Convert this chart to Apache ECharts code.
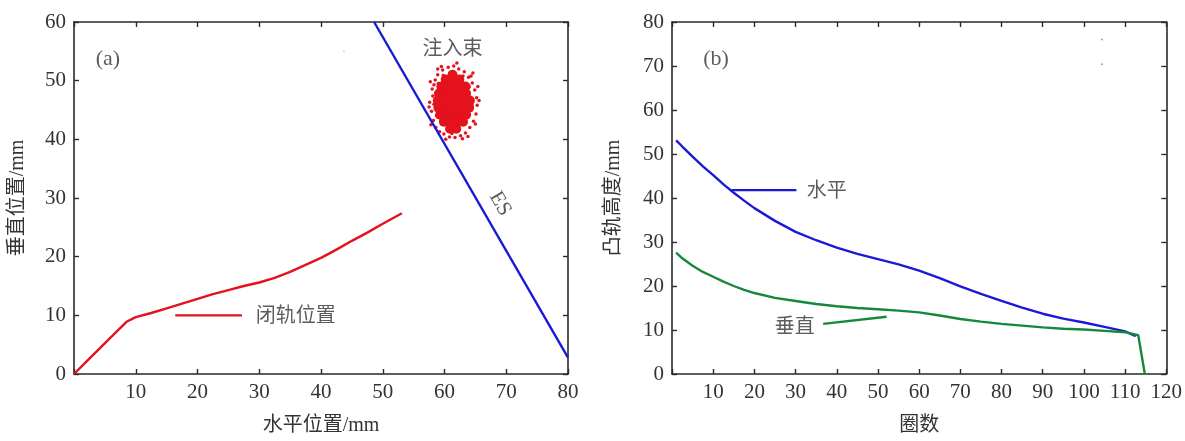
<!DOCTYPE html>
<html>
<head>
<meta charset="utf-8">
<script src="https://cdn.jsdelivr.net/npm/echarts@6/dist/echarts.min.js"></script>
<style>
html,body{margin:0;padding:0;background:#fff;}
#c{width:1185px;height:441px;}
</style>
</head>
<body>
<div id="c"></div>
<script>
// ---- panel (a) data ----
const closedOrbit = [[0,0],[2,2.1],[4,4.2],[6,6.3],[8.5,8.9],[10,9.7],[12.5,10.4],[15,11.2],[17.5,12.0],[20,12.8],[22.5,13.6],[25,14.3],[27.5,15.0],[30,15.6],[32.5,16.4],[35,17.4],[37.5,18.6],[40,19.8],[42.5,21.2],[45,22.7],[47.5,24.1],[50,25.6],[53.1,27.4]];
const esLine = [[48.6,60],[80,2.8]];
const beamCore = [[60.9,41.8],[61.9,41.8],[59.9,43.0],[61.0,43.0],[62.1,43.0],[63.0,43.0],[59.3,44.2],[60.4,44.2],[61.5,44.2],[62.6,44.2],[63.5,44.2],[59.0,45.4],[60.1,45.4],[61.2,45.4],[62.3,45.4],[63.4,45.4],[64.0,45.4],[58.9,46.6],[60.0,46.6],[61.1,46.6],[62.2,46.6],[63.3,46.6],[64.1,46.6],[59.1,47.8],[60.2,47.8],[61.3,47.8],[62.4,47.8],[63.5,47.8],[59.5,49.0],[60.6,49.0],[61.7,49.0],[62.8,49.0],[63.4,49.0],[60.2,50.2],[61.3,50.2],[62.4,50.2],[61.3,51.0]];
const beamHalo = [[57.6,46.3],[57.9,44.8],[58.0,48.6],[58.2,43.2],[58.1,47.4],[58.5,50.1],[58.6,42.0],[58.9,51.0],[59.2,41.3],[59.7,51.8],[59.9,40.9],[60.6,52.3],[60.8,40.4],[61.5,52.5],[61.7,40.3],[62.3,52.0],[62.6,40.6],[63.2,51.5],[63.4,41.1],[63.9,50.6],[64.1,42.0],[64.5,49.6],[64.7,43.1],[64.9,48.4],[65.1,44.3],[65.3,45.8],[65.2,47.1],[57.5,45.5],[58.3,49.3],[64.3,50.8],[59.5,52.4],[62.0,53.0],[65.6,46.6],[57.8,42.5],[63.8,40.5],[60.2,40.0],[58.7,44.0],[64.4,46.0],[59.0,49.5],[64.0,48.9],[63.0,50.8],[59.8,50.9],[58.3,46.0],[65.0,42.6],[58.9,52.0],[61.2,41.0],[62.9,40.1],[64.6,51.3],[57.7,49.8],[65.4,49.0]];
const legendLineA = [[16.4,10.0],[27.2,10.0]];
const textsA = [
  {name:'注入束', value:[61.3,55.3]},
  {name:'闭轨位置', value:[35.9,9.8]}
];
const panelA = [{name:'(a)', value:[5.5,53.6]}];
const esText = [{name:'ES', value:[69.0,29.0]}];
const specksA = [[43.7,55.0]];

// ---- panel (b) data ----
const horizontal = [[1,53.1],[2.5,51.7],[5,49.4],[7.5,47.2],[10,45.2],[12.5,43.1],[15,41.2],[17.5,39.4],[20,37.7],[25,34.8],[30,32.3],[35,30.4],[40,28.7],[45,27.3],[50,26.1],[55,24.9],[60,23.5],[65,21.8],[70,19.9],[75,18.2],[80,16.6],[85,15.1],[90,13.7],[95,12.6],[100,11.7],[105,10.7],[110,9.7],[112.6,8.6]];
const vertical = [[1,27.6],[2.5,26.3],[5,24.6],[7.5,23.2],[10,22.1],[12.5,21.0],[15,20.0],[17.5,19.1],[20,18.4],[25,17.3],[30,16.6],[35,15.9],[40,15.4],[45,15.0],[50,14.7],[55,14.4],[60,14.0],[65,13.3],[70,12.5],[75,11.9],[80,11.4],[85,11.0],[90,10.6],[95,10.3],[100,10.1],[105,9.8],[110,9.5],[113.2,8.8],[114.8,0]];
const legendLineH = [[14.5,41.8],[30.2,41.8]];
const legendLineV = [[36.7,11.4],[52.1,13.0]];
const textsB = [
  {name:'水平', value:[37.6,41.4]},
  {name:'垂直', value:[29.8,10.6]}
];
const panelB = [{name:'(b)', value:[10.7,71.5]}];
const specksB = [[104.4,76.0],[104.4,70.4]];

// ticks
const xTicksA = {min:0, max:80, interval:10};
const yTicksA = {min:0, max:60, interval:10};
const xTicksB = {min:0, max:120, interval:10};
const yTicksB = {min:0, max:80, interval:10};

const FONT = "'Liberation Serif','Noto Sans CJK SC',serif";
const TXT = '#333';
const AX = '#2a2a2a';
const RED = '#e4121c', BLUE = '#1a1ad6', GREEN = '#16883c';

function axisBase(pos, grid, rng, showLabel, hideZero, name, nameGap) {
  const a = {
    type:'value', gridIndex:grid, position:pos, min:rng.min, max:rng.max, interval:rng.interval,
    axisLine:{show:true, onZero:false, lineStyle:{color:AX, width:1.6}},
    axisTick:{show:true, inside:true, length:5, lineStyle:{color:AX, width:1.4}},
    splitLine:{show:false},
    axisLabel:{show:showLabel, color:TXT, fontFamily:FONT, fontSize:21, margin:8,
      formatter: v => (hideZero && v === 0) ? '' : String(v)},
  };
  if (name) {
    a.name = name; a.nameLocation = 'middle'; a.nameGap = nameGap;
    a.nameTextStyle = {color:TXT, fontFamily:FONT, fontSize:20};
  }
  return a;
}

const chart = echarts.init(document.getElementById('c'), null, {renderer:'canvas'});
const textSeries = (data, xi, yi, size, rot) => ({
  type:'scatter', xAxisIndex:xi, yAxisIndex:yi, symbolSize:0, data:data, silent:true, z:5,
  label:{show:true, position:'inside', formatter:p=>p.name, color:TXT, fontFamily:FONT, fontSize:size, rotate:rot || 0}
});

chart.setOption({
  animation:false,
  backgroundColor:'#fff',
  grid:[
    {left:74, right:617, top:22, bottom:61, containLabel:false},
    {left:672, right:18, top:22, bottom:60, containLabel:false}
  ],
  xAxis:[
    axisBase('bottom',0,xTicksA,true,true,'水平位置/mm',42),
    axisBase('top',0,xTicksA,false,false),
    axisBase('bottom',1,xTicksB,true,true,'圈数',42),
    axisBase('top',1,xTicksB,false,false)
  ],
  yAxis:[
    axisBase('left',0,yTicksA,true,false,'垂直位置/mm',46),
    axisBase('right',0,yTicksA,false,false),
    axisBase('left',1,yTicksB,true,false,'凸轨高度/mm',48),
    axisBase('right',1,yTicksB,false,false)
  ],
  series:[
    {type:'line', xAxisIndex:0, yAxisIndex:0, data:closedOrbit, showSymbol:false, smooth:false,
      lineStyle:{color:RED, width:2.4}},
    {type:'line', xAxisIndex:0, yAxisIndex:0, data:esLine, showSymbol:false,
      lineStyle:{color:BLUE, width:2.4}},
    {type:'scatter', xAxisIndex:0, yAxisIndex:0, data:beamCore, symbolSize:10,
      itemStyle:{color:RED, opacity:1}},
    {type:'scatter', xAxisIndex:0, yAxisIndex:0, data:beamHalo, symbolSize:3.5,
      itemStyle:{color:RED, opacity:1}},
    {type:'line', xAxisIndex:0, yAxisIndex:0, data:legendLineA, showSymbol:false,
      lineStyle:{color:RED, width:2.4}},
    {type:'scatter', xAxisIndex:0, yAxisIndex:0, data:specksA, symbolSize:2,
      itemStyle:{color:'#ccc'}},
    textSeries(textsA,0,0,20),
    textSeries(panelA,0,0,22),
    textSeries(esText,0,0,21,-60),

    {type:'line', xAxisIndex:2, yAxisIndex:2, data:horizontal, showSymbol:false, smooth:false,
      lineStyle:{color:BLUE, width:2.4}},
    {type:'line', xAxisIndex:2, yAxisIndex:2, data:vertical, showSymbol:false, smooth:false,
      lineStyle:{color:GREEN, width:2.4}},
    {type:'line', xAxisIndex:2, yAxisIndex:2, data:legendLineH, showSymbol:false,
      lineStyle:{color:BLUE, width:2.4}},
    {type:'line', xAxisIndex:2, yAxisIndex:2, data:legendLineV, showSymbol:false,
      lineStyle:{color:GREEN, width:2.4}},
    {type:'scatter', xAxisIndex:2, yAxisIndex:2, data:specksB, symbolSize:2,
      itemStyle:{color:'#888'}},
    textSeries(textsB,2,2,20),
    textSeries(panelB,2,2,22)
  ]
});
</script>
</body>
</html>
